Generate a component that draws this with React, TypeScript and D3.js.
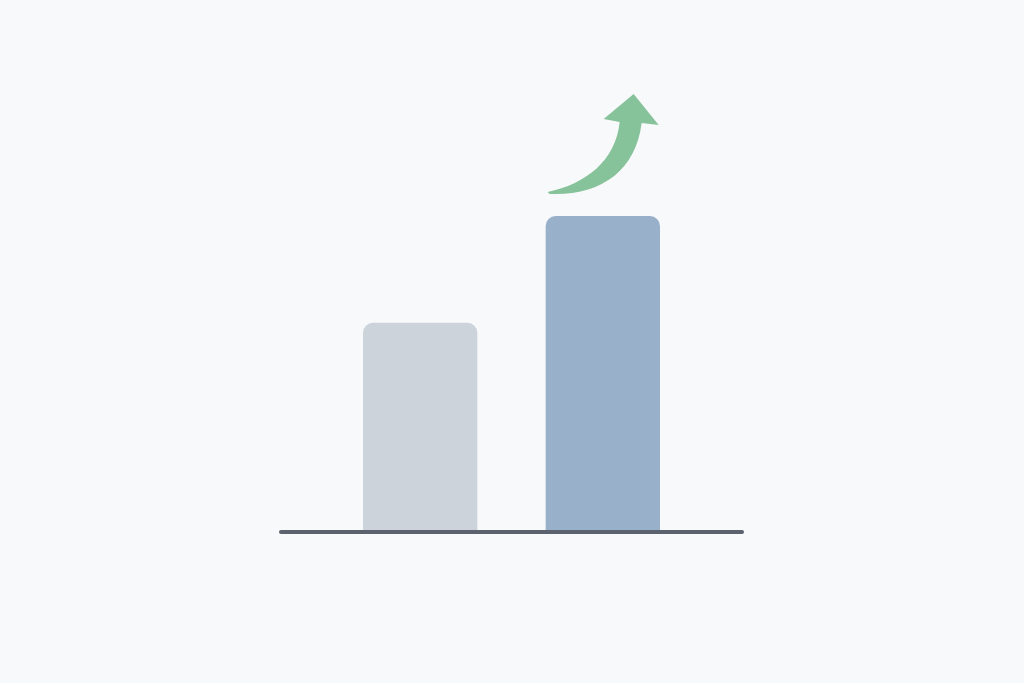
import React from "react";
import * as d3 from "d3";

const categories = ["Before", "After"];
const values = [66, 100];
const barColors = ["#cdd3db", "#99b0cb"];

const W = 1024;
const H = 683;

function topRoundedRect(x: number, y: number, w: number, h: number, r: number) {
  const p = d3.path();
  p.moveTo(x, y + h);
  p.lineTo(x, y + r);
  p.arcTo(x, y, x + r, y, r);
  p.lineTo(x + w - r, y);
  p.arcTo(x + w, y, x + w, y + r, r);
  p.lineTo(x + w, y + h);
  p.closePath();
  return p.toString();
}

export default function App() {
  const x = d3.scaleBand<string>().domain(categories).range([363, 660]).paddingInner(0.374).paddingOuter(0);
  const y = d3.scaleLinear().domain([0, 100]).range([530, 216]);

  // arrow anchored above the second bar
  const bx = x("After")!;
  const topY = y(values[1]);
  const ax = (dx: number) => bx + dx;
  const ay = (dy: number) => topY + dy;
  const arrow = d3.path();
  arrow.moveTo(ax(2), ay(-24));
  arrow.bezierCurveTo(ax(40), ay(-32), ax(70), ay(-55), ax(74), ay(-94));
  arrow.lineTo(ax(58), ay(-97));
  arrow.lineTo(ax(88), ay(-122));
  arrow.lineTo(ax(113), ay(-91));
  arrow.lineTo(ax(96), ay(-93));
  arrow.bezierCurveTo(ax(90), ay(-45), ax(55), ay(-20), ax(4), ay(-22));
  arrow.closePath();

  return (
    <svg width={W} height={H} style={{ position: "absolute", left: 0, top: 0, display: "block" }}>
      <rect width={W} height={H} fill="#f8f9fa" />
      {categories.map((c, i) => (
        <path
          key={c}
          d={topRoundedRect(x(c)!, y(values[i]), x.bandwidth(), y(0) - y(values[i]), 10)}
          fill={barColors[i]}
        />
      ))}
      <line x1={281} x2={742} y1={y(0) + 2} y2={y(0) + 2} stroke="#5c636e" strokeWidth={4} strokeLinecap="round" />
      <path d={arrow.toString()} fill="#86c29a" />
    </svg>
  );
}
